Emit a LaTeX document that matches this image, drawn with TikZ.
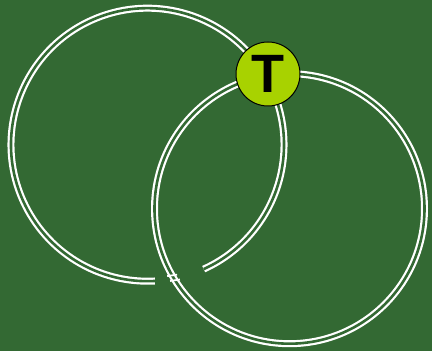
\documentclass[tikz,border=0pt]{standalone}
\usepackage{fontspec}
\usepackage{tikz}
\usetikzlibrary{calc}
\newfontfamily\stopfont{Liberation Sans}
\definecolor{mapgreen}{HTML}{336933}
\definecolor{stoplime}{HTML}{A8D200}
\tikzset{
  track/.style={draw=white,double=mapgreen,line width=2.2pt,double distance=2.6pt},
  tick/.style={draw=white,line width=1.8pt},
  stopnode/.style={circle,draw=black,line width=1pt,fill=stoplime,minimum size=64pt,inner sep=0pt,font=\stopfont\bfseries\fontsize{54}{54}\selectfont},
}
\begin{document}
\begin{tikzpicture}[x=1pt,y=1pt]
  \fill[mapgreen] (0,0) rectangle (432,351);
  \useasboundingbox (0,0) rectangle (432,351);
  % centres of the two loops
  \coordinate (cl) at (147.5,206.3);
  \coordinate (cr) at (289.5,142.3);
  % right loop, with the joint marks
  \draw[track] (cr) circle[radius=135];
  \coordinate (j1) at ($(cr)+(209.6:135)$);
  \coordinate (j2) at ($(cr)+(212.0:135)$);
  \draw[tick] ($(j1)+(188:5)$) -- ($(j1)+(8:5)$);
  \draw[tick] ($(j2)+(188:5)$) -- ($(j2)+(8:5)$);
  % left loop, open at the bottom
  \draw[track] ($(cl)+(-65.7:136.5)$) arc[start angle=-65.7,end angle=273.1,radius=136.5];
  % stop
  \node[stopnode] (stopT) at (268,277) {T};
\end{tikzpicture}
\end{document}
